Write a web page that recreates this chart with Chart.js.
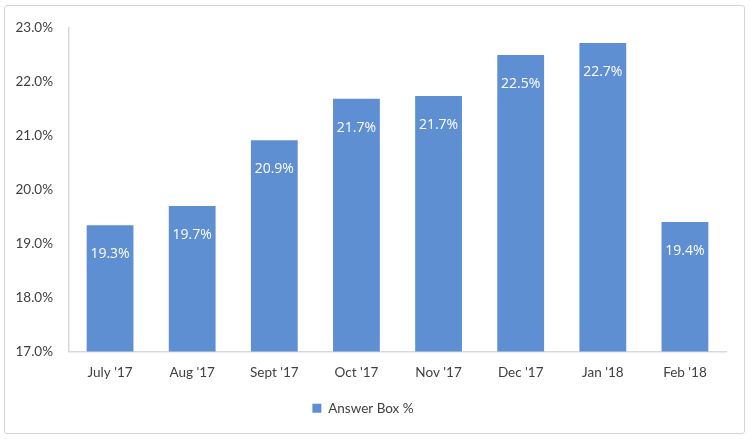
<!DOCTYPE html>
<html>
<head>
<meta charset="utf-8">
<script src="https://cdn.jsdelivr.net/npm/chart.js@4"></script>
<style>
  body { margin: 0; background: #fff; }
  #wrap { position: relative; width: 750px; height: 439px; }
  #frame {
    position: absolute; left: 4px; top: 5px; width: 739px; height: 427px;
    border: 1.5px solid #d4d4d4; border-radius: 3px; pointer-events: none;
  }
</style>
</head>
<body>
<div id="wrap">
  <canvas id="chart" width="750" height="439"></canvas>
  <div id="frame"></div>
</div>
<script>
const months = ["July '17", "Aug '17", "Sept '17", "Oct '17", "Nov '17", "Dec '17", "Jan '18", "Feb '18"];
const answerBox = [19.34, 19.7, 20.92, 21.69, 21.74, 22.5, 22.72, 19.4];
const yTicks = [17, 18, 19, 20, 21, 22, 23];

// white value labels just inside the top of each bar
const barLabels = {
  id: "barLabels",
  afterDatasetsDraw(chart) {
    const ctx = chart.ctx;
    const meta = chart.getDatasetMeta(0);
    ctx.save();
    ctx.fillStyle = "#fff";
    ctx.font = "14px 'Open Sans'";
    ctx.textAlign = "center";
    ctx.textBaseline = "middle";
    meta.data.forEach((bar, i) => {
      ctx.fillText(answerBox[i].toFixed(1) + "%", bar.x, bar.y + 29);
    });
    ctx.restore();
  }
};

new Chart(document.getElementById("chart"), {
  type: "bar",
  data: {
    labels: months,
    datasets: [{
      label: "Answer Box %",
      data: answerBox,
      backgroundColor: "#5f8fd3",
      categoryPercentage: 1,
      barPercentage: 0.57
    }]
  },
  options: {
    responsive: false,
    animation: false,
    layout: { padding: { left: 0, right: 24, top: 28, bottom: 14 } },
    scales: {
      y: {
        min: 17,
        max: 23,
        afterFit(scale) { scale.width = 69; },
        afterBuildTicks(scale) { scale.ticks = yTicks.map(v => ({ value: v })); },
        grid: { display: false, drawTicks: false },
        border: { color: "#d9d9d9", width: 1.5 },
        ticks: {
          padding: 16,
          color: "#404040",
          font: { family: "Lato", size: 13.5 },
          callback: v => v.toFixed(1) + "%"
        }
      },
      x: {
        afterFit(scale) { scale.height = 40; },
        grid: { display: false, drawTicks: false },
        border: { color: "#d9d9d9", width: 1.5 },
        ticks: {
          padding: 13,
          color: "#404040",
          font: { family: "Lato", size: 13.5 }
        }
      }
    },
    plugins: {
      legend: {
        position: "bottom",
        labels: {
          boxWidth: 9,
          boxHeight: 9,
          padding: 10,
          color: "#404040",
          font: { family: "Lato", size: 13.5 }
        }
      },
      tooltip: { enabled: false }
    }
  },
  plugins: [barLabels]
});
</script>
</body>
</html>
